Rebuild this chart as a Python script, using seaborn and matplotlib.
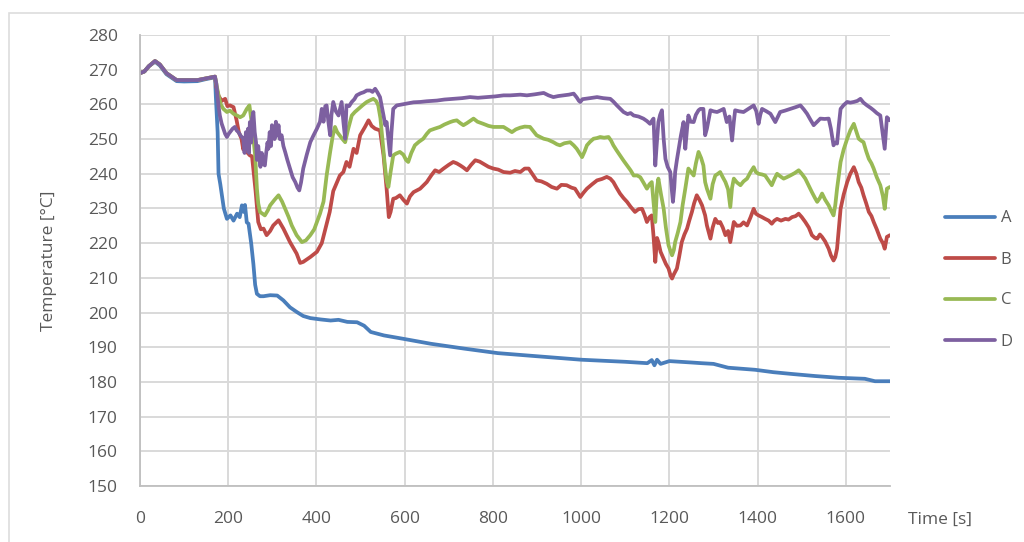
import pandas as pd
import matplotlib.pyplot as plt
from matplotlib.patches import Rectangle
from matplotlib.ticker import MultipleLocator
import seaborn as sns

# shared warm-up part, all four probes read the same until ~170 s
start_time = [0, 10, 20, 34, 45, 60, 83, 100, 130, 150, 170]
start_temp = [269, 269.5, 271, 272.5, 271.5, 269, 267, 267, 267, 267.5, 268]
a_start_temp = [269, 269.5, 271, 272.3, 271.2, 268.7, 266.7, 266.6, 266.7, 267.3, 267.8]

a_time = [172, 176, 178, 182, 190, 197, 205, 212, 220, 226, 231, 235, 238, 242, 246, 252, 257, 261,
          265, 272, 280, 295, 311, 325, 340, 356, 370, 386, 410, 432, 450, 470, 492, 508, 523, 553,
          598, 659, 735, 811, 900, 1000, 1100, 1150, 1160, 1166, 1172, 1180, 1200, 1250, 1273, 1300,
          1333, 1394, 1436, 1477, 1530, 1583, 1643, 1666, 1700]
a_temp = [262, 252, 240, 237, 230, 227, 228, 226.5, 228.5, 227.5, 230.9, 229, 231, 226, 225.6, 220, 214, 208,
          205.4, 204.7, 204.7, 205, 204.9, 203.5, 201.5, 200.1, 199, 198.4, 198, 197.7, 197.9, 197.3, 197.2, 196.2, 194.4, 193.4,
          192.4, 191, 189.6, 188.3, 187.4, 186.4, 185.8, 185.4, 186.3, 184.8, 186.4, 185.2, 186, 185.6, 185.4, 185.2,
          184.1, 183.5, 182.8, 182.3, 181.7, 181.2, 180.9, 180.2, 180.2]

b_time = [173, 178, 185, 193, 198, 204, 212, 216, 219, 224, 230, 234, 238, 242, 249, 254, 258, 262, 268, 274,
          280, 287, 295, 302, 314, 325, 340, 355, 363, 370, 386, 401, 412, 420, 430, 438, 453, 461, 468, 475,
          484, 491, 499, 510, 518, 525, 533, 544, 548, 552, 559, 564, 568, 574, 580, 589, 597, 605, 612, 620,
          635, 650, 660, 669, 678, 688, 700, 710, 718, 726, 733, 741, 750, 760, 770, 778, 790, 801, 812, 824,
          839, 850, 862, 872, 881, 890, 899, 910, 922, 933, 945, 955, 967, 978, 986, 992, 998, 1005, 1013, 1025,
          1036, 1047, 1058, 1066, 1073, 1080, 1088, 1096, 1104, 1112, 1122, 1130, 1138, 1144, 1149, 1155, 1160,
          1164, 1168, 1172, 1175, 1180, 1187, 1192, 1198, 1203, 1206, 1210, 1217, 1222, 1228, 1234, 1240, 1245,
          1251, 1256, 1262, 1268, 1274, 1281, 1285, 1293, 1298, 1304, 1310, 1315, 1321, 1327, 1333, 1338, 1343,
          1346, 1353, 1361, 1368, 1376, 1384, 1391, 1396, 1402, 1410, 1417, 1425, 1432, 1438, 1444, 1453, 1463,
          1470, 1478, 1486, 1493, 1500, 1508, 1516, 1523, 1530, 1535, 1541, 1546, 1553, 1561, 1566, 1572, 1576,
          1580, 1584, 1588, 1595, 1603, 1610, 1618, 1624, 1629, 1635, 1640, 1646, 1652, 1658, 1663, 1670, 1678,
          1684, 1688, 1693, 1700]
b_temp = [265, 262.5, 261, 261.6, 259.5, 259.7, 259.2, 257, 255.4, 252, 250.1, 247, 249, 246.3, 245.3, 245, 240, 235, 226.1, 224,
          224.2, 222.3, 223.5, 225.1, 226.6, 224.2, 220.3, 217, 214.3, 214.6, 216, 217.5, 220, 224, 229, 235, 239.5, 240.5, 243.4, 242,
          247.2, 246, 251.1, 253.5, 255.4, 253.8, 253, 252.5, 249, 245.3, 235.7, 227.5, 229, 232.8, 233, 233.8, 232.5, 231.4, 233.5, 234.7,
          235.7, 237.6, 239.5, 241, 240.5, 241.5, 242.6, 243.4, 243, 242.4, 241.8, 241, 242.5, 243.9, 243.5, 242.9, 242, 241.5, 241.2, 240.5,
          240.3, 240.8, 240.5, 241.5, 241.5, 239.8, 238.1, 237.8, 237.1, 236.2, 235.7, 236.8, 236.7, 236, 235.7, 234.5, 233.3, 234.5, 235.7, 237,
          238.1, 238.5, 239.1, 238.6, 237.6, 236, 234.3, 233, 231.9, 230.5, 229, 229.8, 229.9, 228, 226.1, 227.5, 228,
          222, 214.6, 221.5, 220.3, 217.5, 215.5, 214, 212.7, 210.5, 209.8, 211, 212.7, 216, 220.3, 222.5, 224.2, 226.5,
          229, 231.5, 233.8, 232.5, 230.9, 228, 225.1, 221.3, 224.5, 227, 225.8, 226.1, 224.5, 222.3, 223.5, 220.3, 224,
          226.1, 225, 225.1, 226, 225.1, 227.5, 229.9, 228.5, 228, 227.5, 227, 226.5, 225.6, 226.5, 227, 226.5, 227,
          226.8, 227.5, 227.8, 228.5, 227.5, 226.1, 224.5, 222.3, 221.5, 221.3, 222.5, 221.8, 220.5, 218.4, 216.5, 215, 216,
          218.4, 224, 229.9, 234, 237.6, 240, 241.9, 240, 237.6, 236, 233.8, 231.5, 229, 227.8, 226.1, 224, 221.3,
          220, 218.4, 221.8, 222.3]

c_time = [173, 178, 183, 189, 197, 204, 212, 220, 227, 234, 242, 248, 253, 257, 261, 265, 268, 272, 283, 290,
          295, 305, 314, 322, 329, 337, 344, 355, 367, 376, 386, 395, 401, 408, 416, 423, 431, 437, 442, 447,
          453, 459, 465, 472, 480, 487, 495, 505, 514, 522, 529, 535, 540, 545, 548, 552, 555, 559, 563, 568,
          574, 580, 589, 597, 603, 608, 615, 623, 632, 642, 650, 657, 668, 680, 690, 703, 710, 718, 726, 733,
          741, 748, 756, 765, 778, 790, 801, 812, 824, 833, 843, 852, 862, 872, 884, 892, 899, 907, 915, 925,
          937, 945, 952, 962, 975, 983, 990, 996, 1002, 1008, 1013, 1020, 1028, 1036, 1043, 1052, 1062, 1068,
          1073, 1080, 1088, 1096, 1104, 1112, 1119, 1127, 1134, 1141, 1149, 1155, 1160, 1164, 1168, 1172, 1175,
          1181, 1187, 1192, 1198, 1203, 1206, 1210, 1213, 1219, 1225, 1230, 1236, 1243, 1249, 1255, 1260, 1266,
          1272, 1277, 1281, 1285, 1293, 1298, 1304, 1310, 1315, 1321, 1327, 1333, 1338, 1342, 1346, 1353, 1361,
          1368, 1376, 1384, 1391, 1396, 1402, 1410, 1417, 1425, 1432, 1438, 1444, 1452, 1459, 1466, 1474, 1484,
          1493, 1500, 1508, 1516, 1523, 1530, 1535, 1541, 1546, 1553, 1561, 1566, 1572, 1576, 1580, 1584, 1588,
          1595, 1603, 1610, 1618, 1624, 1629, 1635, 1640, 1646, 1652, 1658, 1663, 1670, 1678, 1684, 1688, 1693, 1700]
c_temp = [266, 262.6, 260, 258.7, 257.8, 258.2, 257.3, 256.8, 256.3, 256.8, 258.7, 259.7, 254.9, 250, 245.3, 235.7, 231.5, 229, 228, 229.5,
          230.9, 232.5, 233.8, 232, 229.9, 227.5, 225.1, 222.3, 220.3, 220.8, 222.3, 224, 226.1, 228.5, 232, 239.5, 246.3, 251, 253.5, 252,
          251, 250, 249.1, 253, 256.8, 257.8, 258.7, 259.8, 260.7, 261.2, 261.6, 261, 259.7, 256, 252, 247, 242.4, 238, 236.2, 240.5,
          245.3, 245.8, 246.3, 245.5, 244, 243.4, 246, 248.2, 249.2, 250.1, 251.5, 252.5, 253, 253.5, 254.2, 254.9, 255.2, 255.4, 254.6, 254,
          254.6, 255.2, 255.9, 255, 254.4, 253.8, 253.5, 253.5, 253.5, 252.8, 252, 252.8, 253.3, 253.6, 253.5, 252.2, 251.1, 250.6, 250.1, 249.8,
          249.1, 248.5, 248.2, 248.8, 249.1, 248.2, 247.2, 246, 244.8, 246.5, 248.2, 249.2, 250.1, 250.3, 250.6, 250.4, 250.6, 249.5,
          248.2, 246.8, 245.3, 243.8, 242.4, 241, 239.5, 239.5, 239, 237.5, 235.7, 237, 237.6, 232, 226.1, 236, 238.6,
          234, 229.9, 224.5, 219.4, 217.5, 216.5, 218, 220.3, 223, 226.1, 231, 235.7, 241.5, 240.5, 239.5, 243, 246.3,
          244.5, 242.4, 237.6, 235.7, 232.8, 237, 239.5, 240, 240.5, 239, 237.6, 235.5, 230.4, 236, 238.6, 237.5, 236.7,
          237.8, 238.6, 240.5, 241.9, 240.5, 240, 239.8, 239.5, 238, 236.7, 238.5, 240, 239.2, 238.6, 239, 239.5, 240.2,
          241, 240, 238.6, 236.5, 234.7, 233, 231.9, 233, 234.3, 232.5, 230.9, 229.5, 228, 231, 235.7, 239.5, 243.4,
          247, 250.1, 252.5, 254.4, 252, 250.1, 249.5, 249.1, 246.5, 244.3, 243, 241.5, 239, 236.7, 233.5, 229.9, 235.7, 236.2]

d_time = [173, 175, 178, 181, 185, 189, 193, 197, 201, 204, 210, 215, 219, 223, 228, 234, 237, 240, 242, 245,
          247, 249, 252, 254, 257, 260, 263, 265, 268, 270, 273, 276, 279, 283, 286, 289, 291, 294, 297, 299,
          302, 305, 308, 311, 314, 317, 321, 325, 329, 334, 340, 346, 352, 357, 361, 365, 370, 378, 386, 393,
          401, 408, 412, 416, 420, 423, 427, 431, 434, 438, 444, 450, 454, 457, 461, 465, 468, 474, 480, 486,
          491, 500, 507, 514, 522, 527, 533, 538, 544, 548, 552, 556, 559, 563, 567, 570, 574, 582, 595, 605,
          620, 635, 650, 673, 690, 710, 730, 748, 766, 786, 805, 824, 839, 850, 862, 877, 895, 915, 926, 937,
          948, 960, 972, 983, 990, 995, 998, 1003, 1009, 1020, 1036, 1050, 1066, 1073, 1081, 1088, 1096, 1105,
          1112, 1119, 1130, 1141, 1149, 1156, 1160, 1164, 1166, 1168, 1171, 1175, 1179, 1183, 1187, 1191, 1196,
          1202, 1205, 1208, 1211, 1213, 1217, 1221, 1226, 1232, 1236, 1240, 1243, 1248, 1255, 1260, 1266, 1270,
          1277, 1281, 1285, 1293, 1300, 1308, 1315, 1323, 1330, 1336, 1342, 1346, 1349, 1358, 1368, 1380, 1391,
          1397, 1402, 1406, 1410, 1420, 1429, 1435, 1440, 1446, 1451, 1462, 1474, 1486, 1497, 1505, 1512, 1520,
          1527, 1535, 1542, 1552, 1561, 1566, 1572, 1576, 1580, 1584, 1588, 1595, 1603, 1610, 1618, 1626, 1633,
          1640, 1648, 1656, 1663, 1670, 1678, 1683, 1688, 1693, 1700]
d_temp = [266, 263.5, 259.5, 256.8, 254.5, 253, 251.5, 250.6, 251.5, 252, 253, 253.5, 252.5, 252, 251, 250.1, 246, 252, 247.2, 253,
          246, 254.9, 249, 256, 257.8, 252, 249.1, 244, 248, 245.3, 242, 246, 243, 242.4, 246, 249, 247.2, 252, 248, 254,
          253, 250, 255, 251, 254, 250, 251.1, 248, 246.3, 244, 241.5, 239, 237.6, 236, 235.2, 237.5, 241.5, 245.5, 249.1, 251,
          253, 255, 258.7, 255, 259.5, 259.7, 255, 251.1, 257, 260.7, 258, 256.8, 259, 260.7, 255, 250.1, 259.7, 259.5, 260.7, 261.5,
          262.6, 263.2, 263.5, 264, 264, 263.6, 264.5, 263.5, 262.1, 259.5, 256.8, 254, 254.9, 250, 245.3, 252, 258.7, 259.7, 260, 260.2,
          260.6, 260.7, 260.9, 261.1, 261.4, 261.6, 261.8, 262.1, 261.9, 262.1, 262.3, 262.6, 262.6, 262.7, 262.8, 262.6, 262.9, 263.3, 262.6, 262.1,
          262.4, 262.6, 262.8, 263.1, 262, 261, 260.7, 261.5, 261.6, 261.8, 262.1, 261.8, 261.6, 260.8, 259.7, 258.8, 257.8, 257.2,
          257.5, 256.8, 256.5, 255.9, 255.2, 254.4, 255.2, 255.9, 249, 242.4, 248, 254.9, 257, 258.3, 250, 244.3, 242,
          240.5, 236, 231.9, 236, 240.5, 244, 247.2, 251, 254.9, 247.2, 253, 256.8, 255, 254.9, 257, 258.3, 258.7,
          258.7, 251.1, 253, 258.3, 258, 257.8, 258.2, 258.7, 254.9, 256.5, 249.6, 255, 258.3, 258, 257.8, 258.8, 259.7,
          258, 254.4, 257, 258.7, 258, 257.3, 256, 254.9, 256.5, 257.8, 258.2, 258.7, 259.2, 259.7, 258.5, 257.3, 255.5,
          254, 255, 255.9, 255.8, 255.9, 253, 248.2, 249, 248.7, 254, 258.7, 259.8, 260.7, 260.5, 260.7, 261, 261.6,
          260.5, 259.7, 259, 258.3, 257.5, 256.8, 252, 247.2, 256.3, 255.4]

series_names = ['A', 'B', 'C', 'D']
series_colors = ['#4A7EBB', '#BE4B48', '#98B954', '#7D60A0']

frames = []
for name, t, v, head in [('A', a_time, a_temp, a_start_temp),
                         ('B', b_time, b_temp, start_temp),
                         ('C', c_time, c_temp, start_temp),
                         ('D', d_time, d_temp, start_temp)]:
    frames.append(pd.DataFrame({'Time': start_time + t, 'Temperature': head + v, 'Series': name}))
df = pd.concat(frames, ignore_index=True)

sns.set_style('white')
plt.rcParams['font.family'] = ['Open Sans', 'DejaVu Sans']
text_grey = '#595959'
line_grey = '#BFBFBF'

fig = plt.figure(figsize=(10.24, 5.42), dpi=100)
ax = fig.add_axes([140 / 1024, 56 / 542, 750 / 1024, 451 / 542])

sns.lineplot(data=df, x='Time', y='Temperature', hue='Series', hue_order=series_names,
             palette=dict(zip(series_names, series_colors)), estimator=None, sort=False,
             lw=2.7, ax=ax)

ax.set_xlim(0, 1700)
ax.set_ylim(150, 280)
ax.xaxis.set_major_locator(MultipleLocator(200))
ax.xaxis.set_minor_locator(MultipleLocator(40))
ax.yaxis.set_major_locator(MultipleLocator(10))
ax.yaxis.set_minor_locator(MultipleLocator(2))
ax.grid(True, which='major', color='#D9D9D9', lw=1.4)
ax.set_axisbelow(True)

for side in ['top', 'right']:
    ax.spines[side].set_visible(False)
for side in ['left', 'bottom']:
    ax.spines[side].set_color(line_grey)
    ax.spines[side].set_linewidth(1.3)

ax.tick_params(which='major', direction='out', length=6, width=1.3, color=line_grey,
               labelsize=12.5, labelcolor=text_grey)
ax.tick_params(axis='y', which='major', pad=10)
ax.tick_params(axis='x', which='major', pad=12)
ax.tick_params(which='minor', direction='in', length=5, width=1.1, color=line_grey)
# top strip of the source picture is faded
ax.get_yticklabels()[-1].set_color('#C8C8C8')

ax.set_xlabel('')
ax.set_ylabel('Temperature [°C]', fontsize=12.5, color=text_grey)
ax.yaxis.set_label_coords(-0.111, 0.5)
ax.text(1.067, -0.075, 'Time [s]', transform=ax.transAxes, ha='center', va='center',
        fontsize=12.5, color=text_grey)

handles, labels = ax.get_legend_handles_labels()
ax.get_legend().remove()
fig.legend(handles, labels, loc='center left', bbox_to_anchor=(945 / 1024, 1 - 280 / 542),
           frameon=False, handlelength=3.0, handletextpad=0.35, labelspacing=1.5,
           fontsize=12, labelcolor=text_grey, borderpad=0, borderaxespad=0)

# light outer chart frame
fig.patches.append(Rectangle((9 / 1024, -0.05), 1.1, 1 - 13 / 542 + 0.05, transform=fig.transFigure,
                             fill=False, edgecolor='#DDDDDD', lw=1.2))

fig.savefig('out.png', dpi=100)
